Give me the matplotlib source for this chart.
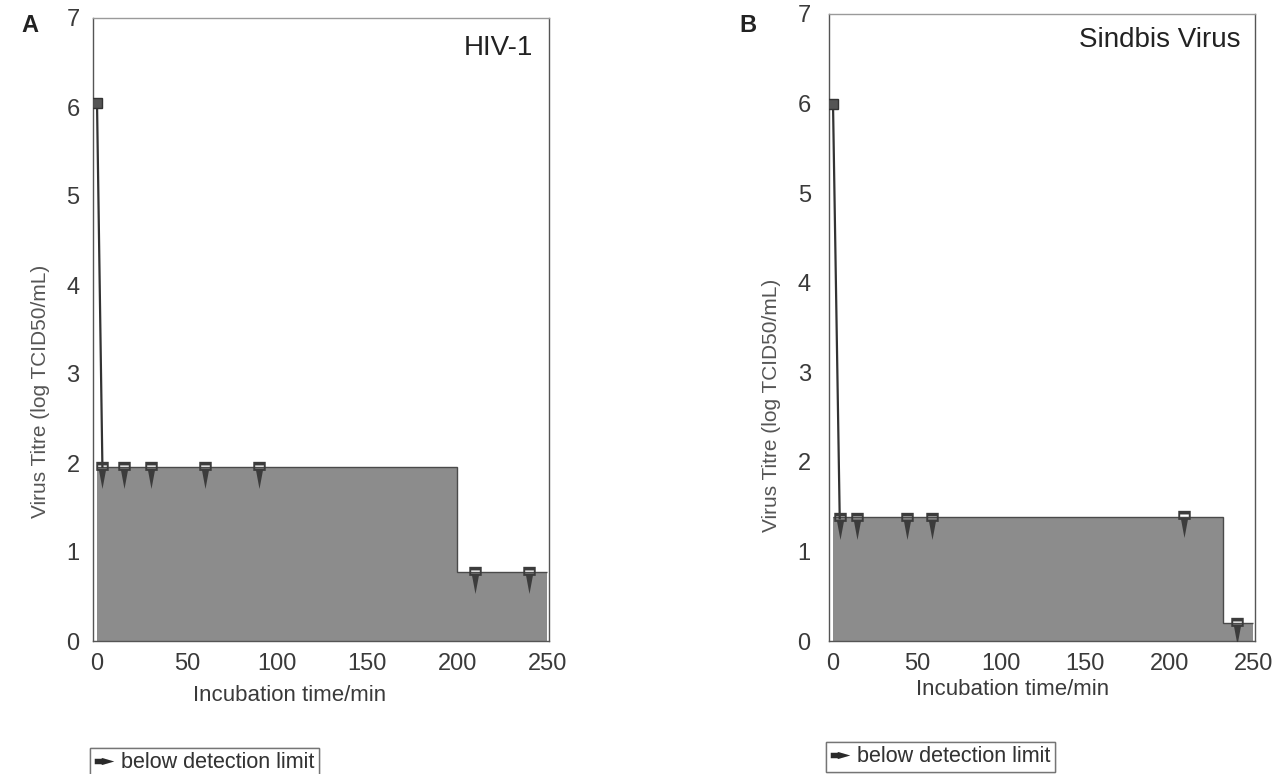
import matplotlib
matplotlib.use("Agg")
import matplotlib.pyplot as plt
from matplotlib.path import Path
from matplotlib.lines import Line2D
import numpy as np

plt.rcParams['font.family'] = ['Liberation Sans', 'DejaVu Sans']

# ---------------- data ----------------
# Panel A: HIV-1
hiv_start_time = [0]
hiv_start_titre = [6.05]
hiv_bdl_times = [3, 15, 30, 60, 90, 210, 240]          # below detection limit
hiv_bdl_titres = [1.96, 1.96, 1.96, 1.96, 1.96, 0.77, 0.77]
hiv_limit_edges = [0, 200, 250]                        # detection-limit steps
hiv_limit_values = [1.96, 0.77]

# Panel B: Sindbis Virus
sin_start_time = [0]
sin_start_titre = [6.0]
sin_bdl_times = [4, 14, 44, 59, 209, 240]
sin_bdl_titres = [1.37, 1.37, 1.37, 1.37, 1.39, 0.2]
sin_limit_edges = [0, 232, 250]
sin_limit_values = [1.38, 0.2]

x_ticks = [0, 50, 100, 150, 200, 250]
y_ticks = [0, 1, 2, 3, 4, 5, 6, 7]
panel_titles = ["HIV-1", "Sindbis Virus"]
panel_letters = ["A", "B"]
x_label = "Incubation time/min"
y_label = "Virus Titre (log TCID50/mL)"
legend_label = "below detection limit"

# ---------------- markers ----------------
def bdl_marker():
    verts = [(-5.5, -3), (5.5, -3), (5.5, 5), (-5.5, 5), (-5.5, -3),
             (-3.8, -1.0), (-3.8, 1.8), (3.8, 1.8), (3.8, -1.0), (-3.8, -1.0),
             (-3.0, -3), (0, -19), (3.0, -3), (-3.0, -3)]
    codes = ([Path.MOVETO] + [Path.LINETO] * 3 + [Path.CLOSEPOLY]) * 2 + \
            [Path.MOVETO, Path.LINETO, Path.LINETO, Path.CLOSEPOLY]
    return Path(np.array(verts, float), codes)

def legend_arrow():
    verts = [(-9, 2.5), (-3, 2.5), (-2, 3.2), (9, 0), (-2, -3.2), (-3, -2.5),
             (-9, -2.5), (-9, 2.5)]
    codes = [Path.MOVETO] + [Path.LINETO] * 6 + [Path.CLOSEPOLY]
    return Path(np.array(verts, float), codes)

FILL = "#8c8c8c"
EDGE = "#4a4a4a"
TXT = "#3a3a3a"

fig = plt.figure(figsize=(12.76, 7.74), dpi=100)

def px_axes(left, right, top, bottom):
    W, H = 1276, 774
    return fig.add_axes([left / W, (H - bottom) / H, (right - left) / W, (bottom - top) / H])

axA = px_axes(93.4, 549, 18, 641)
axB = px_axes(828.8, 1255, 14, 641)

panels = [
    (axA, hiv_start_time, hiv_start_titre, hiv_bdl_times, hiv_bdl_titres,
     hiv_limit_edges, hiv_limit_values, (-2, 251)),
    (axB, sin_start_time, sin_start_titre, sin_bdl_times, sin_bdl_titres,
     sin_limit_edges, sin_limit_values, (-2.5, 251)),
]

for i, (ax, t0, y0, tb, yb, edges, vals, xl) in enumerate(panels):
    # detection limit area
    ax.stairs(vals, edges, fill=True, color=FILL, zorder=1, baseline=0)
    ax.stairs(vals, edges, fill=False, color=EDGE, lw=1.0, zorder=2, baseline=None)
    # decay line from initial titre to first measurement
    ax.plot([t0[0], tb[0]], [y0[0], yb[0]], color="#333333", lw=1.6, zorder=3)
    ax.plot(t0, y0, ls="none", marker="s", ms=6.5, mfc="#555555", mec="#333333", zorder=4)
    ax.plot(tb, yb, ls="none", marker=bdl_marker(), ms=31, mfc="#3c3c3c",
            mec="none", zorder=5)

    ax.set_xlim(*xl)
    ax.set_ylim(0, 7)
    ax.set_xticks(x_ticks)
    ax.set_yticks(y_ticks)
    ax.tick_params(axis="both", length=0, labelsize=17, labelcolor=TXT)
    ax.tick_params(axis="x", pad=9)
    ax.tick_params(axis="y", pad=10 if i == 0 else 13)
    for s in ax.spines.values():
        s.set_color("#555555")
        s.set_linewidth(1.0)
    ax.spines["top"].set_color("#9a9a9a")

    ax.set_xlabel(x_label, fontsize=16, color=TXT)
    ax.set_ylabel(y_label, fontsize=15, color="#555555")
    if i == 0:
        ax.xaxis.set_label_coords(0.43, -0.087)
        ax.yaxis.set_label_coords(-0.117, 0.40)
    else:
        ax.xaxis.set_label_coords(0.43, -0.078)
        ax.yaxis.set_label_coords(-0.134, 0.376)
    ax.xaxis.label.set_va("center")
    ax.yaxis.label.set_va("center")

    ax.text(0.965, 0.952 if i == 0 else 0.958, panel_titles[i], transform=ax.transAxes,
            ha="right", va="center", fontsize=20, color="#222222")

fig.text(30 / 1276, 1 - 26 / 774, panel_letters[0], fontsize=17, fontweight="bold",
         ha="center", va="center", color="#222222")
fig.text(748 / 1276, 1 - 25 / 774, panel_letters[1], fontsize=17, fontweight="bold",
         ha="center", va="center", color="#222222")

handle = Line2D([], [], ls="none", marker=legend_arrow(), ms=14,
                mfc="#2a2a2a", mec="none")
for left, top in [(90, 748), (826, 742)]:
    leg = fig.legend([handle], [legend_label], loc="upper left",
                     bbox_to_anchor=(left / 1276, 1 - top / 774),
                     bbox_transform=fig.transFigure, borderaxespad=0,
                     fontsize=15.5, frameon=True, fancybox=False,
                     handlelength=0.9, handletextpad=0.35, borderpad=0.2,
                     borderaxespad_=None) if False else \
          fig.legend([handle], [legend_label], loc="upper left",
                     bbox_to_anchor=(left / 1276, 1 - top / 774),
                     bbox_transform=fig.transFigure, borderaxespad=0,
                     fontsize=15.5, frameon=True, fancybox=False,
                     handlelength=0.9, handletextpad=0.35, borderpad=0.2,
                     labelcolor="#333333")
    leg.get_frame().set_edgecolor("#666666")
    leg.get_frame().set_linewidth(1.0)
    fig.add_artist(leg)

fig.savefig("out.png", dpi=100)
